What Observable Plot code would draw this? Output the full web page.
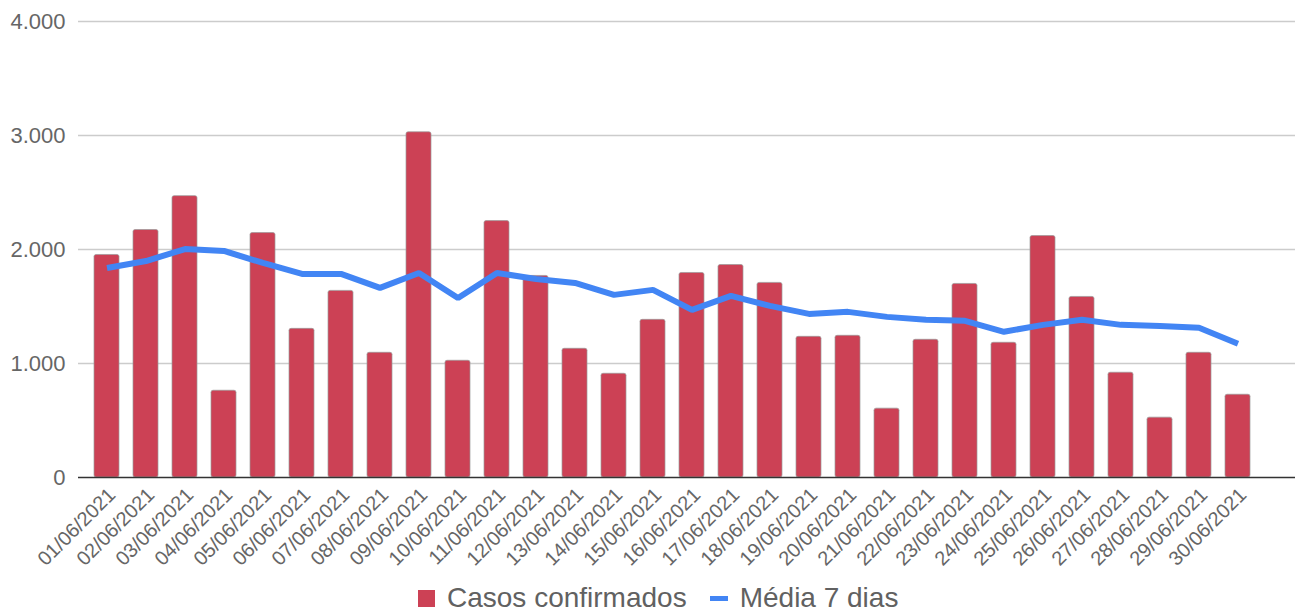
<!DOCTYPE html>
<html>
<head>
<meta charset="utf-8">
<script src="https://cdn.jsdelivr.net/npm/d3@7"></script>
<script src="https://cdn.jsdelivr.net/npm/@observablehq/plot@0.6"></script>
<style>
  html, body { margin: 0; padding: 0; background: #fff; }
  body { position: relative; width: 1295px; height: 611px; overflow: hidden; font-family: Arial, "Liberation Sans", sans-serif; }
  #legend { position: absolute; left: 418px; top: 584px; height: 27px; display: flex; align-items: center; font-size: 28px; line-height: 27px; color: #616161; white-space: nowrap; }
  .sw { width: 17px; height: 17px; background: #cc4155; margin-right: 12px; position: relative; top: 1px; }
  .dash { width: 18px; height: 5px; background: #4285f4; margin-left: 23px; margin-right: 12px; position: relative; top: 1px; }
</style>
</head>
<body>
<div id="chart"></div>
<div id="legend"><span class="sw"></span><span>Casos confirmados</span><span class="dash"></span><span>Média 7 dias</span></div>
<script>
const dates = ["01/06/2021","02/06/2021","03/06/2021","04/06/2021","05/06/2021","06/06/2021","07/06/2021","08/06/2021","09/06/2021","10/06/2021","11/06/2021","12/06/2021","13/06/2021","14/06/2021","15/06/2021","16/06/2021","17/06/2021","18/06/2021","19/06/2021","20/06/2021","21/06/2021","22/06/2021","23/06/2021","24/06/2021","25/06/2021","26/06/2021","27/06/2021","28/06/2021","29/06/2021","30/06/2021"];
const casos = [1952,2171,2468,761,2144,1304,1637,1094,3028,1024,2249,1768,1129,910,1383,1794,1864,1707,1234,1243,604,1208,1698,1182,2118,1584,919,525,1094,726];
const media = [1838,1899,2004,1987,1882,1786,1786,1663,1794,1575,1794,1742,1707,1602,1646,1470,1593,1505,1435,1453,1409,1383,1374,1278,1339,1383,1339,1330,1313,1173];
const yTicks = [0,1000,2000,3000,4000];
const seriesNames = ["Casos confirmados","Média 7 dias"];

const data = dates.map((d, i) => ({date: d, casos: casos[i], media: media[i]}));
const fmt = d => d3.format(",")(d).replace(/,/g, ".");

const chart = Plot.plot({
  width: 1295,
  height: 580,
  marginLeft: 78,
  marginRight: 0,
  marginTop: 21,
  marginBottom: 103,
  style: {fontFamily: "Arial, 'Liberation Sans', sans-serif", background: "#fff"},
  x: {domain: dates, paddingInner: 0.36, paddingOuter: 0.7266, align: 0.258, label: null},
  y: {domain: [0, 4000], label: null},
  marks: [
    Plot.ruleY(yTicks.filter(d => d > 0), {stroke: "#cccccc", strokeWidth: 1.5}),
    Plot.barY(data, {x: "date", y: "casos", fill: "#cc4155", stroke: "#9a9a9a", strokeOpacity: 0.7, strokeWidth: 1, rx: 2}),
    Plot.ruleY([0], {stroke: "#333", strokeWidth: 1.5}),
    Plot.lineY(data, {x: "date", y: "media", stroke: "#4285f4", strokeWidth: 6, strokeLinejoin: "miter", strokeLinecap: "butt"}),
    Plot.axisY({ticks: yTicks, tickFormat: fmt, tickSize: 0, tickPadding: 13, fontSize: 22, fill: "#666", label: null}),
    Plot.axisX({tickRotate: -45, tickSize: 0, tickPadding: 8, fontSize: 20, fill: "#666", label: null, dx: 5, dy: 6})
  ]
});
document.getElementById("chart").appendChild(chart);
</script>
</body>
</html>
